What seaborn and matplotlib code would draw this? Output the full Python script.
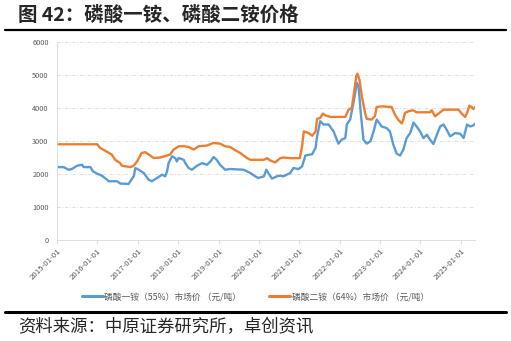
import matplotlib
matplotlib.use("Agg")
import matplotlib.pyplot as plt
import seaborn as sns
import pandas as pd
from matplotlib.lines import Line2D

sns.set_theme(style="white")
plt.rcParams['font.family'] = ['Noto Sans CJK SC', 'DejaVu Sans']

title = "图 42：磷酸一铵、磷酸二铵价格"
source = "资料来源：中原证券研究所，卓创资讯"
map_name = "磷酸一铵（55%）市场价 （元/吨）"
dap_name = "磷酸二铵（64%）市场价 （元/吨）"

map_dates = ["2015-01-01", "2015-03-01", "2015-04-15", "2015-05-15", "2015-07-01", "2015-08-15",
             "2015-08-30", "2015-10-30", "2015-11-22", "2015-12-30", "2016-02-10", "2016-03-28",
             "2016-04-12", "2016-06-28", "2016-07-27", "2016-10-10", "2016-10-25", "2016-11-25",
             "2016-12-10", "2017-01-08", "2017-02-24", "2017-04-08", "2017-05-08", "2017-06-24",
             "2017-08-08", "2017-09-06", "2017-09-22", "2017-10-06", "2017-11-06", "2017-12-06",
             "2017-12-20", "2018-01-05", "2018-02-20", "2018-03-06", "2018-04-05", "2018-05-05",
             "2018-06-20", "2018-08-05", "2018-09-18", "2018-10-20", "2018-11-17", "2018-12-15",
             "2019-01-15", "2019-03-01", "2019-04-15", "2019-08-15", "2019-10-15", "2019-11-28",
             "2019-12-28", "2020-02-15", "2020-03-08", "2020-03-30", "2020-04-28", "2020-06-12",
             "2020-07-12", "2020-08-10", "2020-10-10", "2020-11-08", "2020-12-24", "2021-01-25",
             "2021-02-24", "2021-04-27", "2021-05-27", "2021-06-10", "2021-07-08", "2021-08-07",
             "2021-09-22", "2021-11-06", "2021-12-20", "2022-01-18", "2022-02-20", "2022-03-06",
             "2022-04-05", "2022-05-05", "2022-06-05", "2022-06-20", "2022-07-10", "2022-08-03",
             "2022-09-02", "2022-10-05", "2022-11-03", "2022-12-01", "2023-01-15", "2023-03-01",
             "2023-03-31", "2023-04-30", "2023-05-30", "2023-07-01", "2023-07-30", "2023-08-29",
             "2023-09-30", "2023-10-30", "2023-11-27", "2023-12-28", "2024-01-28", "2024-02-28",
             "2024-03-27", "2024-04-27", "2024-05-28", "2024-06-27", "2024-07-27", "2024-08-25",
             "2024-09-25", "2024-11-10", "2024-12-25", "2025-01-25", "2025-02-25", "2025-03-25",
             "2025-04-22", "2025-05-18"]
map_values = [2210, 2210, 2130, 2150, 2250, 2280,
              2210, 2210, 2080, 2010, 1950, 1830,
              1780, 1780, 1710, 1700, 1780, 1930,
              2180, 2130, 2030, 1830, 1780, 1880,
              1980, 1930, 2080, 2330, 2535, 2480,
              2380, 2485, 2430, 2330, 2180, 2130,
              2250, 2330, 2280, 2380, 2515, 2430,
              2280, 2130, 2150, 2130, 2030, 1930,
              1880, 1930, 2130, 2010, 1860, 1930,
              1950, 1930, 2030, 2180, 2150, 2230,
              2560, 2600, 2790, 3140, 3600, 3500,
              3500, 3290, 2920, 3040, 3090, 3500,
              3650, 4150, 4760, 4660, 3850, 3040,
              2920, 2990, 3290, 3650, 3440, 3390,
              3290, 2890, 2620, 2560, 2740, 3090,
              3240, 3560, 3440, 3290, 3090, 3190,
              3040, 2910, 3190, 3440, 3500, 3340,
              3140, 3240, 3220, 3090, 3500, 3440,
              3470, 3550]

dap_dates = ["2015-01-01", "2016-01-01", "2016-01-25", "2016-03-15", "2016-05-10", "2016-06-10",
             "2016-07-25", "2016-08-10", "2016-10-25", "2016-11-25", "2016-12-25", "2017-02-05",
             "2017-03-10", "2017-04-25", "2017-05-22", "2017-07-22", "2017-09-05", "2017-10-20",
             "2017-11-20", "2018-01-05", "2018-02-20", "2018-04-05", "2018-05-20", "2018-07-05",
             "2018-09-15", "2018-11-15", "2019-01-15", "2019-03-01", "2019-04-15", "2019-06-01",
             "2019-07-15", "2019-09-12", "2019-10-15", "2020-02-15", "2020-03-15", "2020-04-12",
             "2020-05-26", "2020-07-12", "2020-08-10", "2020-10-10", "2021-01-05", "2021-01-25",
             "2021-02-10", "2021-03-25", "2021-04-27", "2021-05-27", "2021-06-10", "2021-07-08",
             "2021-08-01", "2021-08-22", "2021-10-08", "2022-02-20", "2022-03-22", "2022-04-20",
             "2022-05-05", "2022-05-30", "2022-06-10", "2022-06-28", "2022-07-20", "2022-08-18",
             "2022-09-02", "2022-10-17", "2022-11-15", "2022-12-01", "2023-01-15", "2023-04-15",
             "2023-05-15", "2023-06-12", "2023-07-15", "2023-07-30", "2023-08-14", "2023-09-12",
             "2023-10-27", "2023-11-27", "2024-03-27", "2024-04-12", "2024-05-12", "2024-06-12",
             "2024-07-27", "2024-12-10", "2025-01-08", "2025-02-08", "2025-02-25", "2025-03-18",
             "2025-04-08", "2025-04-22", "2025-05-18"]
dap_values = [2900, 2900, 2790, 2700, 2590, 2430,
              2330, 2250, 2210, 2250, 2380, 2640,
              2660, 2555, 2485, 2500, 2545, 2590,
              2740, 2840, 2840, 2820, 2740, 2840,
              2860, 2940, 2920, 2840, 2820, 2720,
              2640, 2490, 2430, 2430, 2480, 2410,
              2350, 2480, 2500, 2480, 2480, 2840,
              3290, 3240, 3160, 3290, 3670, 3700,
              3830, 3780, 3730, 3730, 3950, 4000,
              4350, 4960, 5040, 4860, 4350, 3850,
              3670, 3650, 3750, 4030, 4050, 4030,
              3800, 3650, 3530, 3650, 3850, 3900,
              3930, 3870, 3870, 3930, 3750, 3830,
              3950, 3950, 3830, 3730, 3850, 4070,
              4030, 3970, 4050]

y_ticks = [0, 1000, 2000, 3000, 4000, 5000, 6000]
x_tick_labels = ["2015-01-01", "2016-01-01", "2017-01-01", "2018-01-01", "2019-01-01", "2020-01-01",
                 "2021-01-01", "2022-01-01", "2023-01-01", "2024-01-01", "2025-01-01"]

df = pd.concat([
    pd.DataFrame({"date": pd.to_datetime(map_dates), "value": map_values, "series": map_name}),
    pd.DataFrame({"date": pd.to_datetime(dap_dates), "value": dap_values, "series": dap_name}),
])

fig = plt.figure(figsize=(5.11, 3.41), dpi=100)
ax = fig.add_axes([57 / 511, 1 - 240 / 341, (475 - 57) / 511, (240 - 42) / 341])

palette = {map_name: "#5B9BD5", dap_name: "#ED7D31"}
sns.lineplot(data=df, x="date", y="value", hue="series", palette=palette,
             linewidth=1.7, ax=ax, legend=False)

ax.set_xlim(pd.Timestamp("2015-01-01"), pd.Timestamp("2025-05-08"))
ax.set_ylim(0, 6000)
ax.set_yticks(y_ticks)
ax.set_yticklabels([str(v) for v in y_ticks], fontsize=5.3, color="#595959")
ax.set_xticks(pd.to_datetime(x_tick_labels))
ax.set_xticklabels(x_tick_labels, rotation=45, ha="right", rotation_mode="anchor",
                   fontsize=5.6, color="#595959")
ax.set_xlabel("")
ax.set_ylabel("")
ax.tick_params(axis="x", length=3, width=0.6, color="#D9D9D9", pad=2, bottom=True)
ax.tick_params(axis="y", length=0, pad=6)

for yv in y_ticks[1:]:
    ax.axhline(yv, color="#D9D9D9", linewidth=0.6, linestyle=(0, (4, 2, 1, 2)), zorder=0)

for s in ["top", "right"]:
    ax.spines[s].set_visible(False)
ax.spines["left"].set_color("#D9D9D9")
ax.spines["left"].set_linewidth(0.6)
ax.spines["bottom"].set_color("#D9D9D9")
ax.spines["bottom"].set_linewidth(0.6)

handles = [Line2D([], [], color="#5B9BD5", linewidth=2.2),
           Line2D([], [], color="#ED7D31", linewidth=2.2)]
fig.legend(handles, [map_name, dap_name], loc="center", bbox_to_anchor=(0.5, 1 - 297 / 341),
           ncol=2, frameon=False, fontsize=6.3, labelcolor="#595959", handlelength=2.4,
           handletextpad=0.15, columnspacing=3.2)

fig.text(18 / 511, 1 - 15 / 341, title, fontsize=14, fontweight="bold", va="center", ha="left")
fig.add_artist(Line2D([5 / 511, 506 / 511], [1 - 30 / 341] * 2, color="black", linewidth=1.6))
fig.add_artist(Line2D([5 / 511, 506 / 511], [1 - 312 / 341] * 2, color="black", linewidth=2.2))
fig.text(18 / 511, 1 - 327 / 341, source, fontsize=12.5, va="center", ha="left")

fig.savefig("out.png", dpi=100)
